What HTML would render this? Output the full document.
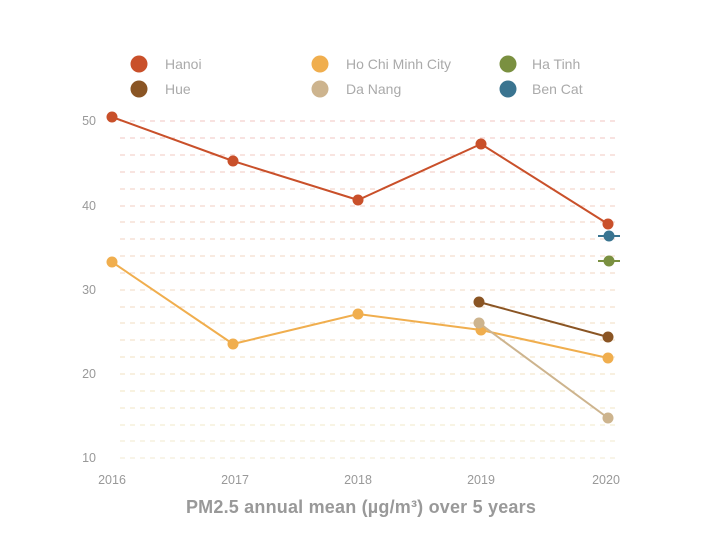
<!DOCTYPE html>
<html><head><style>body{margin:0;background:#fff}</style></head><body>
<svg width="720" height="552" xmlns="http://www.w3.org/2000/svg" font-family="Liberation Sans, sans-serif">
<rect width="720" height="552" fill="#fff"/>
<g stroke-width="1" stroke-dasharray="5,5">
<line x1="120" x2="620" y1="121" y2="121" stroke="#f2c6c0"/>
<line x1="120" x2="620" y1="138" y2="138" stroke="#f2c6c0"/>
<line x1="120" x2="620" y1="155" y2="155" stroke="#f2c8c0"/>
<line x1="120" x2="620" y1="172" y2="172" stroke="#f2cac0"/>
<line x1="120" x2="620" y1="189" y2="189" stroke="#f2ccc0"/>
<line x1="120" x2="620" y1="206" y2="206" stroke="#f2cec0"/>
<line x1="120" x2="620" y1="222" y2="222" stroke="#f2d0c0"/>
<line x1="120" x2="620" y1="239" y2="239" stroke="#f2d2c0"/>
<line x1="120" x2="620" y1="256" y2="256" stroke="#f2d4c0"/>
<line x1="120" x2="620" y1="273" y2="273" stroke="#f2d6c0"/>
<line x1="120" x2="620" y1="290" y2="290" stroke="#f2d8c0"/>
<line x1="120" x2="620" y1="307" y2="307" stroke="#f2dac0"/>
<line x1="120" x2="620" y1="323" y2="323" stroke="#f2dcc0"/>
<line x1="120" x2="620" y1="340" y2="340" stroke="#f2dec0"/>
<line x1="120" x2="620" y1="357" y2="357" stroke="#f2e0c0"/>
<line x1="120" x2="620" y1="374" y2="374" stroke="#f2e2c0"/>
<line x1="120" x2="620" y1="391" y2="391" stroke="#f2e4c0"/>
<line x1="120" x2="620" y1="408" y2="408" stroke="#f2e6c4"/>
<line x1="120" x2="620" y1="425" y2="425" stroke="#f2e8c8"/>
<line x1="120" x2="620" y1="441" y2="441" stroke="#f2eacc"/>
<line x1="120" x2="620" y1="458" y2="458" stroke="#f2ead0"/>
</g>
<g font-size="12.5" fill="#999" text-anchor="end">
<text x="96" y="125">50</text><text x="96" y="210">40</text><text x="96" y="294">30</text><text x="96" y="378">20</text><text x="96" y="462">10</text>
</g>
<g font-size="12.5" fill="#999" text-anchor="middle">
<text x="112" y="484">2016</text><text x="235" y="484">2017</text><text x="358" y="484">2018</text><text x="481" y="484">2019</text><text x="606" y="484">2020</text>
</g>
<text x="361" y="513" font-size="18" font-weight="bold" fill="#999" text-anchor="middle" letter-spacing="0.2">PM2.5 annual mean (µg/m³) over 5 years</text>
<polyline points="112,117 233,161 358,200 481,144 608,224" fill="none" stroke="#c9502a" stroke-width="2"/>
<g fill="#c9502a"><circle cx="112" cy="117" r="5.5"/><circle cx="233" cy="161" r="5.5"/><circle cx="358" cy="200" r="5.5"/><circle cx="481" cy="144" r="5.5"/><circle cx="608" cy="224" r="5.5"/></g>
<polyline points="112,262 233,344 358,314 481,330 608,358" fill="none" stroke="#f0ae4e" stroke-width="2"/>
<g fill="#f0ae4e"><circle cx="112" cy="262" r="5.5"/><circle cx="233" cy="344" r="5.5"/><circle cx="358" cy="314" r="5.5"/><circle cx="481" cy="330" r="5.5"/><circle cx="608" cy="358" r="5.5"/></g>
<line x1="479" y1="323" x2="608" y2="418" stroke="#cdb48e" stroke-width="2"/>
<g fill="#cdb48e"><circle cx="479" cy="323" r="5.5"/><circle cx="608" cy="418" r="5.5"/></g>
<line x1="479" y1="302" x2="608" y2="337" stroke="#8a5524" stroke-width="2"/>
<g fill="#8a5524"><circle cx="479" cy="302" r="5.5"/><circle cx="608" cy="337" r="5.5"/></g>
<line x1="598" x2="620" y1="261" y2="261" stroke="#7a9040" stroke-width="2"/><circle cx="609" cy="261" r="5.5" fill="#7a9040"/>
<line x1="598" x2="620" y1="236" y2="236" stroke="#3a7490" stroke-width="2"/><circle cx="609" cy="236" r="5.5" fill="#3a7490"/>
<g font-size="14" fill="#aaa">
<circle cx="139" cy="64" r="8.5" fill="#c9502a"/><text x="165" y="69">Hanoi</text>
<circle cx="139" cy="89" r="8.5" fill="#8a5524"/><text x="165" y="94">Hue</text>
<circle cx="320" cy="64" r="8.5" fill="#f0ae4e"/><text x="346" y="69">Ho Chi Minh City</text>
<circle cx="320" cy="89" r="8.5" fill="#cdb48e"/><text x="346" y="94">Da Nang</text>
<circle cx="508" cy="64" r="8.5" fill="#7a9040"/><text x="532" y="69">Ha Tinh</text>
<circle cx="508" cy="89" r="8.5" fill="#3a7490"/><text x="532" y="94">Ben Cat</text>
</g>
</svg>
</body></html>
